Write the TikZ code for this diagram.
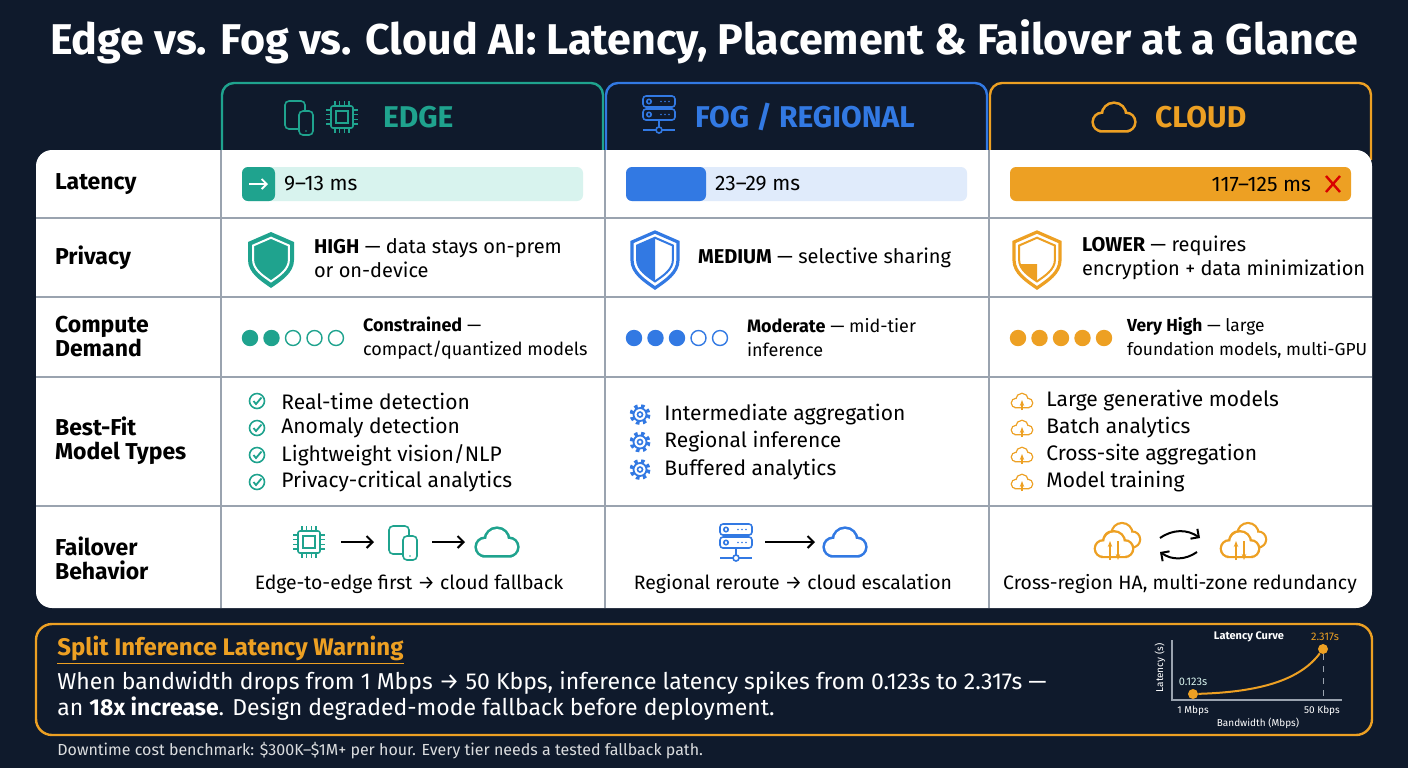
\documentclass[tikz,border=0pt]{standalone}
\usepackage{fontspec}
\setmainfont{Fira Sans}
\usetikzlibrary{positioning}
\usetikzlibrary{calc}
\usetikzlibrary{arrows.meta}

\definecolor{navy}{HTML}{0F1A2C}
\definecolor{edgec}{HTML}{1FA38E}
\definecolor{edgel}{HTML}{D8F3EE}
\definecolor{fogc}{HTML}{3279E3}
\definecolor{fogl}{HTML}{E0EBFB}
\definecolor{cloudc}{HTML}{EDA023}
\definecolor{gridc}{HTML}{9AA3AF}

\tikzset{
  rowlabel/.style={anchor=west, font=\fontsize{11.5}{13}\selectfont\bfseries, align=left, text=black},
  cell/.style={anchor=west, font=\fontsize{#1}{12}\selectfont, align=left, text=black},
  cell/.default=10,
  item/.style={anchor=west, font=\fontsize{10.5}{12}\selectfont, text=black, inner sep=1pt},
  tab/.style={draw=#1, line width=1.2pt, fill=navy, rounded corners=6pt},
  dot/.style={circle, draw=#1, line width=0.7pt, minimum size=7.5pt, inner sep=0pt},
  pics/cloud/.style args={#1/#2/#3}{code={
    \draw[#1, line width=2.6pt*#3] (-12*#3,4*#3) circle (8*#3) (0,-3*#3) circle (11*#3) (12*#3,4*#3) circle (8*#3) (-12*#3,4*#3) rectangle (12*#3,12*#3);
    \fill[#2] (-12*#3,4*#3) circle (8*#3);
    \fill[#2] (0,-3*#3) circle (11*#3);
    \fill[#2] (12*#3,4*#3) circle (8*#3);
    \fill[#2] (-12*#3,4*#3) rectangle (12*#3,12*#3);
  }},
  pics/chip/.style={code={
    \draw[#1, line width=0.8pt, rounded corners=1pt] (-11,-11) rectangle (11,11);
    \draw[#1, line width=0.8pt] (-6,-6) rectangle (6,6);
    \foreach \p in {-7,-2.5,2.5,7} {
      \draw[#1, line width=0.7pt] (\p,-11) -- (\p,-16) (\p,11) -- (\p,16) (-11,\p) -- (-16,\p) (11,\p) -- (16,\p);
    }
  }},
  pics/devices/.style args={#1/#2}{code={
    \draw[#1, line width=0.8pt, rounded corners=2pt] (-14,-16) rectangle (6,12);
    \fill[#2] (0,-6) rectangle (14,18);
    \draw[#1, line width=0.8pt, rounded corners=2pt] (0,-6) rectangle (14,18);
    \fill[#1] (7,14) circle (0.9);
  }},
  pics/server/.style={code={
    \foreach \yy in {-18,-5} {
      \draw[#1, line width=0.8pt, rounded corners=1.5pt] (-16,\yy) rectangle (16,\yy+11);
      \draw[#1, line width=0.8pt] (-10,\yy+5.5) circle (2.2);
      \foreach \xx in {2,6,10} \fill[#1] (\xx,\yy+5.5) circle (0.9);
    }
    \draw[#1, line width=0.8pt] (0,6) -- (0,13) (-16,16) -- (-3,16) (3,16) -- (16,16);
    \draw[#1, line width=0.8pt] (0,16) circle (3);
  }},
  pics/upcloud/.style={code={
    \pic {cloud={cloudc}/white/0.5};
    \draw[cloudc, line width=0.8pt, -{Stealth[length=3pt]}] (0,9) -- (0,-1);
  }},
  pics/gear/.style={code={
    \draw[fogc, line width=2.4pt, dash pattern=on 1.6pt off 1.6pt] (0,0) circle (8);
    \draw[fogc, line width=0.9pt, fill=white] (0,0) circle (6.5);
    \draw[fogc, line width=0.8pt] (0,0) circle (2.5);
  }},
  pics/tick/.style={code={
    \draw[edgec, line width=0.8pt] (0,0) circle (7.5);
    \draw[edgec, line width=0.9pt] (-3.5,0) -- (-1,3) -- (4.5,-3.5);
  }}
}

\begin{document}
\begin{tikzpicture}[x=0.5pt, y=-0.5pt]
  % background
  \fill[navy] (0,0) rectangle (1408,768);
  \useasboundingbox (0,0) rectangle (1408,768);

  \node[text=white, font=\fontsize{21.5}{23}\selectfont\bfseries] (title) at (704,42)
    {Edge vs. Fog vs. Cloud AI: Latency, Placement \& Failover at a Glance};

  % column tabs
  \draw[tab=edgec] (222,160) -- (222,83) -- (603,83) -- (603,160);
  \draw[tab=fogc] (606,160) -- (606,83) -- (987,83) -- (987,160);
  \draw[tab=cloudc] (990,160) -- (990,83) -- (1371,83) -- (1371,160);
  \node[text=edgec, font=\fontsize{15}{16}\selectfont\bfseries, anchor=west] (hedge) at (376,117) {EDGE};
  \node[text=fogc, font=\fontsize{15}{16}\selectfont\bfseries, anchor=west] (hfog) at (688,117) {FOG / REGIONAL};
  \node[text=cloudc, font=\fontsize{15}{16}\selectfont\bfseries, anchor=west] (hcloud) at (1148,117) {CLOUD};
  \pic at (299,117) {devices=edgec/navy};
  \pic at (342,117) {chip=edgec};
  \pic at (659,114) {server=fogc};
  \pic at (1114,118) {cloud={cloudc}/navy/1};

  % table body
  \fill[white, rounded corners=8pt] (36,150) rectangle (1372,608);
  \foreach \yy in {218,297,377,506} \draw[gridc, line width=0.6pt] (36,\yy) -- (1372,\yy);
  \foreach \xx in {221,605,989} \draw[gridc, line width=0.6pt] (\xx,150) -- (\xx,608);

  \node[rowlabel] (rlat) at (48,184) {Latency};
  \node[rowlabel] (rpriv) at (48,258) {Privacy};
  \node[rowlabel] (rcomp) at (48,337) {Compute\\[-1pt]Demand};
  \node[rowlabel] (rfit) at (48,441) {Best-Fit\\[-1pt]Model Types};
  \node[rowlabel] (rfail) at (48,558) {Failover\\[-1pt]Behavior};

  % latency bars
  \fill[edgel, rounded corners=3pt] (242,167) rectangle (583,201);
  \fill[edgec, rounded corners=3pt] (242,167) rectangle (275,201);
  \draw[white, line width=0.9pt, -{Straight Barb[length=2.5pt]}] (249,184) -- (268,184);
  \node[cell=10.5] (ledge) at (277,184) {9–13 ms};
  \fill[fogl, rounded corners=3pt] (626,167) rectangle (967,201);
  \fill[fogc, rounded corners=3pt] (626,167) rectangle (706,201);
  \node[cell=10.5] (lfog) at (708,184) {23–29 ms};
  \fill[cloudc, rounded corners=3pt] (1010,167) rectangle (1351,201);
  \node[cell=10.5, anchor=east] (lcloud) at (1318,184) {117–125 ms};
  \draw[red!85!black, line width=1.2pt] (1326,176) -- (1340,192) (1326,192) -- (1340,176);

  % privacy shields
  \def\shield{(0,-26) -- (23,-16) -- (23,2) .. controls (23,15) and (10,23) .. (0,30) .. controls (-10,23) and (-23,15) .. (-23,2) -- (-23,-16) -- cycle}
  \begin{scope}[shift={(271,258)}]
    \fill[edgec] \shield;
    \begin{scope}[scale=0.78] \draw[white, line width=1pt] \shield; \end{scope}
  \end{scope}
  \begin{scope}[shift={(655,258)}]
    \draw[fogc, line width=1.6pt] \shield;
    \begin{scope}[scale=0.78]
      \draw[fogc, line width=1pt] \shield;
      \clip (-25,-30) rectangle (0,32); \fill[fogc] \shield;
    \end{scope}
  \end{scope}
  \begin{scope}[shift={(1037,258)}]
    \draw[cloudc, line width=1.6pt] \shield;
    \begin{scope}[scale=0.78]
      \draw[cloudc, line width=1pt] \shield;
      \clip (-25,8) rectangle (0,32); \fill[cloudc] \shield;
    \end{scope}
  \end{scope}
  \node[cell] (pedge) at (307,258) {\textbf{HIGH} — data stays on-prem\\or on-device};
  \node[cell] (pfog) at (691,258) {\textbf{MEDIUM} — selective sharing};
  \node[cell] (pcloud) at (1075,258) {\textbf{LOWER} — requires\\encryption + data minimization};

  % compute dots
  \foreach \i in {1,...,5} {
    \pgfmathsetmacro\dx{250+(\i-1)*21.5}
    \ifnum\i<3 \node[dot=edgec, fill=edgec] (ce\i) at (\dx,338) {};
    \else \node[dot=edgec] (ce\i) at (\dx,338) {}; \fi
    \pgfmathsetmacro\dx{634+(\i-1)*21.5}
    \ifnum\i<4 \node[dot=fogc, fill=fogc] (cf\i) at (\dx,338) {};
    \else \node[dot=fogc] (cf\i) at (\dx,338) {}; \fi
    \pgfmathsetmacro\dx{1018+(\i-1)*21.5}
    \node[dot=cloudc, fill=cloudc] (cc\i) at (\dx,338) {};
  }
  \node[cell=9] (cedge) at (356,338) {\textbf{Constrained} —\\compact/quantized models};
  \node[cell=9] (cfog) at (740,338) {\textbf{Moderate} — mid-tier\\inference};
  \node[cell=8.7] (ccloud) at (1120,338) {\textbf{Very High} — large\\foundation models, multi-GPU};

  % best-fit lists
  \foreach \t [count=\i] in {Real-time detection, Anomaly detection, Lightweight vision/NLP, Privacy-critical analytics} {
    \pic at (257,374+27*\i) {tick};
    \node[item] (be\i) at (279,374+27*\i) {\t};
  }
  \foreach \t [count=\i] in {Intermediate aggregation, Regional inference, Buffered analytics} {
    \pic at (640,387+27.5*\i) {gear};
    \node[item] (bf\i) at (662,387+27.5*\i) {\t};
  }
  \foreach \t [count=\i] in {Large generative models, Batch analytics, Cross-site aggregation, Model training} {
    \pic at (1022,374+27*\i) {upcloud};
    \node[item] (bc\i) at (1044,374+27*\i) {\t};
  }

  % failover
  \pic at (309,542) {chip=edgec};
  \pic at (403,542) {devices=edgec/white};
  \pic at (497,543) {cloud={edgec}/white/1};
  \coordinate (fe1) at (341,542); \coordinate (fe2) at (374,542);
  \coordinate (fe3) at (432,542); \coordinate (fe4) at (465,542);
  \draw[black, line width=1pt, -{Straight Barb[length=3pt]}] (fe1) -- (fe2);
  \draw[black, line width=1pt, -{Straight Barb[length=3pt]}] (fe3) -- (fe4);
  \pic at (736,542) {server=fogc};
  \pic at (845,543) {cloud={fogc}/white/1};
  \coordinate (ff1) at (765,542); \coordinate (ff2) at (815,542);
  \draw[black, line width=1pt, -{Straight Barb[length=3pt]}] (ff1) -- (ff2);
  \foreach \cx in {1114,1240} {
    \pic at (\cx+8,536) {cloud={cloudc}/white/0.85};
    \pic at (\cx,545) {cloud={cloudc}/white/0.9};
    \draw[cloudc, line width=0.7pt, -{Stealth[length=3pt]}] (\cx-4,560) -- (\cx-4,541);
    \draw[cloudc, line width=0.7pt, -{Stealth[length=3pt]}] (\cx+4,541) -- (\cx+4,560);
  }
  \coordinate (fc1) at (1160,538); \coordinate (fc2) at (1200,538);
  \coordinate (fc3) at (1197,552); \coordinate (fc4) at (1160,552);
  \draw[black, line width=1pt, -{Straight Barb[length=3pt]}] (fc1) to[bend left=35] (fc2);
  \draw[black, line width=1pt, -{Straight Barb[length=3pt]}] (fc3) to[bend left=35] (fc4);
  \node[cell=9.7, anchor=center] (fedge) at (409,584) {Edge-to-edge first → cloud fallback};
  \node[cell=9.7, anchor=center] (ffog) at (793,584) {Regional reroute → cloud escalation};
  \node[cell=9.7, anchor=center] (fcloud) at (1180,584) {Cross-region HA, multi-zone redundancy};

  % warning box
  \draw[cloudc, line width=1.2pt, fill=navy, rounded corners=8pt] (36,624) rectangle (1372,735);
  \node[anchor=west, text=cloudc, font=\fontsize{12}{13}\selectfont\bfseries, inner sep=1pt] (wtitle) at (55,650)
    {\underline{Split Inference Latency Warning}};
  \node[anchor=west, text=white, font=\fontsize{11.5}{13}\selectfont, align=left, inner sep=1pt] (wtext) at (55,696)
    {When bandwidth drops from 1 Mbps → 50 Kbps, inference latency spikes from 0.123s to 2.317s —\\
     an \textbf{18x increase}. Design degraded-mode fallback before deployment.};

  % latency curve
  \coordinate (ax0) at (1172,700); \coordinate (ayt) at (1172,640); \coordinate (axr) at (1342,700);
  \draw[gridc, line width=0.6pt] (ayt) -- (ax0) -- (axr);
  \node[circle, fill=cloudc, inner sep=0pt, minimum size=5pt] (p1) at (1193,694) {};
  \node[circle, fill=cloudc, inner sep=0pt, minimum size=5pt] (p2) at (1323,649) {};
  \draw[gridc, dashed, line width=0.4pt] (p2) -- (1323,700);
  \draw[cloudc, line width=1pt] (p1) .. controls (1260,692) and (1300,680) .. (p2);
  \node[text=white, font=\fontsize{5.5}{6}\selectfont\bfseries] (ctitle) at (1249,637) {Latency Curve};
  \node[text=cloudc, font=\fontsize{5.5}{6}\selectfont] (c2) at (1325,637) {2.317s};
  \node[text=edgel, font=\fontsize{5.5}{6}\selectfont] (c1) at (1193,682) {0.123s};
  \node[text=white, font=\fontsize{5}{6}\selectfont] (cx1) at (1193,711) {1 Mbps};
  \node[text=white, font=\fontsize{5}{6}\selectfont] (cx2) at (1322,711) {50 Kbps};
  \node[text=white, font=\fontsize{5}{6}\selectfont] (cxl) at (1258,723) {Bandwidth (Mbps)};
  \node[text=white, font=\fontsize{5}{6}\selectfont, rotate=90] (cyl) at (1160,668) {Latency (s)};

  \node[anchor=west, text=white!85!navy, font=\fontsize{8}{9}\selectfont, inner sep=1pt] (foot) at (55,751)
    {Downtime cost benchmark: \$300K–\$1M+ per hour. Every tier needs a tested fallback path.};
\end{tikzpicture}
\end{document}
